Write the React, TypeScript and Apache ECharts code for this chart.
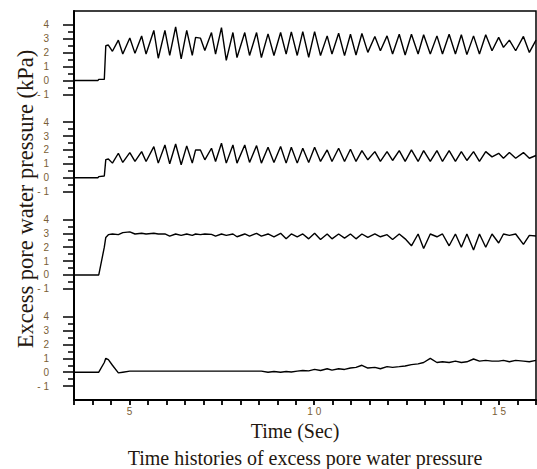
import React, { useEffect, useRef } from 'react';
import * as echarts from 'echarts';

// Time (s) of sampled points (peaks / troughs of the records)
const timeSec = [
  3.5, 4.15, 4.17, 4.32, 4.36, 4.43, 4.54, 4.70, 4.82, 5.01,
  5.15, 5.33, 5.45, 5.66, 5.78, 5.96, 6.09, 6.25, 6.40, 6.55,
  6.70, 6.79, 6.92, 7.04, 7.22, 7.33, 7.49, 7.62, 7.80, 7.91,
  8.12, 8.25, 8.44, 8.57, 8.75, 8.91, 9.09, 9.24, 9.38, 9.54,
  9.69, 9.85, 10.01, 10.17, 10.35, 10.48, 10.66, 10.82, 10.98, 11.13,
  11.29, 11.45, 11.64, 11.79, 11.97, 12.12, 12.30, 12.46, 12.63, 12.81,
  12.96, 13.14, 13.32, 13.47, 13.65, 13.82, 13.98, 14.13, 14.31, 14.47,
  14.64, 14.81, 14.99, 15.12, 15.28, 15.45, 15.66, 15.82, 16.0,
];

// Excess pore water pressure (kPa), panel 1 (top) to panel 4 (bottom)
const pwp1 = [
  0, 0, 0.08, 0.08, 2.5, 2.55, 2.1, 2.9, 1.9, 3.05,
  1.95, 3.2, 1.9, 3.6, 1.6, 3.6, 1.8, 3.85, 1.55, 3.6,
  1.8, 3.1, 3.05, 2.15, 3.45, 1.9, 3.8, 1.45, 3.45, 1.65,
  3.45, 1.8, 3.45, 1.65, 3.35, 1.8, 3.45, 1.9, 3.5, 1.8,
  3.52, 1.67, 3.52, 1.79, 3.21, 1.9, 3.4, 1.79, 3.33, 1.83,
  3.38, 2.02, 3.17, 2.14, 3.21, 1.9, 3.33, 1.83, 3.33, 1.9,
  3.29, 1.9, 3.21, 1.9, 3.33, 1.9, 3.29, 1.86, 3.21, 1.9,
  3.29, 2.14, 3.1, 2.38, 2.9, 2.14, 3.17, 2.02, 2.9,
];
const pwp2 = [
  0, 0, 0.08, 0.12, 1.3, 1.35, 1.05, 1.76, 1.1, 1.81,
  1.17, 1.88, 1.17, 2.24, 1.05, 2.36, 1.0, 2.43, 0.93, 2.29,
  1.05, 2.0, 2.0, 1.29, 2.12, 1.17, 2.48, 1.05, 2.36, 1.05,
  2.36, 1.1, 2.31, 1.05, 2.19, 1.1, 2.24, 1.05, 2.19, 1.05,
  2.12, 1.1, 2.19, 1.17, 2.0, 1.17, 2.12, 1.17, 2.05, 1.17,
  1.95, 1.29, 1.88, 1.17, 1.88, 1.24, 1.95, 1.17, 2.0, 1.17,
  1.95, 1.17, 1.95, 1.17, 1.95, 1.17, 1.88, 1.24, 1.88, 1.17,
  1.88, 1.5, 1.76, 1.4, 1.81, 1.4, 1.81, 1.4, 1.6,
];
const pwp3 = [
  0, 0, 0, 2.0, 2.7, 2.9, 2.95, 2.9, 3.05, 3.1,
  2.95, 3.0, 2.95, 3.0, 2.95, 2.95, 2.8, 2.95, 2.85, 2.95,
  2.85, 2.95, 2.9, 2.95, 2.92, 2.8, 2.95, 2.85, 2.95, 2.75,
  2.95, 2.8, 3.0, 2.8, 2.95, 2.75, 3.0, 2.6, 2.95, 2.75,
  2.95, 2.6, 3.0, 2.55, 2.95, 2.6, 2.95, 2.65, 2.95, 2.6,
  2.95, 2.7, 2.95, 2.75, 2.9, 2.55, 2.95, 2.6, 2.1, 2.95,
  1.9, 2.95, 2.75, 2.95, 2.1, 2.95, 2.0, 2.95, 1.8, 2.95,
  2.0, 2.95, 2.3, 2.95, 2.85, 2.95, 2.2, 2.85, 2.8,
];
const pwp4 = [
  0, 0, 0, 0.7, 1.0, 0.9, 0.5, -0.05, 0.0, 0.08,
  0.08, 0.08, 0.08, 0.08, 0.08, 0.08, 0.08, 0.08, 0.08, 0.08,
  0.08, 0.08, 0.08, 0.08, 0.08, 0.08, 0.08, 0.08, 0.08, 0.08,
  0.08, 0.08, 0.08, 0.08, 0.0, 0.05, 0.0, 0.05, 0.02, 0.08,
  0.12, 0.1, 0.2, 0.12, 0.25, 0.15, 0.25, 0.2, 0.3, 0.35,
  0.5, 0.3, 0.35, 0.25, 0.4, 0.35, 0.4, 0.45, 0.55, 0.6,
  0.7, 1.0, 0.7, 0.75, 0.7, 0.8, 0.7, 0.75, 0.95, 0.8,
  0.85, 0.8, 0.8, 0.85, 0.75, 0.85, 0.8, 0.75, 0.85,
];

// Tick labels
const yTickValues = [-1, 0, 1, 2, 3, 4];
const yTickLabels = ['- 1', '0', '1', '2', '3', '4'];
const yHalfTicks = [-0.5, 0.5, 1.5, 2.5, 3.5];
const xLabelValues = [5, 10, 15];
const xTickLabels = ['5', '1 0', '1 5'];

const yAxisTitle = 'Excess pore water pressure (kPa)';
const xAxisTitle = 'Time (Sec)';
const caption = 'Time histories of excess pore water pressure';

// vertical stacking of the four records on one axis
const PANEL_STEP = 7;
const records = [pwp1, pwp2, pwp3, pwp4];

export default function App() {
  const ref = useRef<HTMLDivElement>(null);

  useEffect(() => {
    if (!ref.current) return;
    const chart = echarts.init(ref.current, null, { renderer: 'svg' });
    const offsets = records.map((_, i) => (records.length - 1 - i) * PANEL_STEP);
    const majorTicks: number[] = [];
    const minorTicks: number[] = [];
    offsets.forEach((o) => {
      yTickValues.forEach((v) => majorTicks.push(v + o));
      yHalfTicks.forEach((v) => minorTicks.push(v + o));
    });
    const tickColor = '#7a5e36';
    const textColor = '#24170f';
    const serif = '"Liberation Serif", "Times New Roman", serif';

    chart.setOption({
      animation: false,
      backgroundColor: '#ffffff',
      grid: {
        left: 74,
        right: 1,
        top: 11,
        bottom: 69,
        show: true,
        borderColor: '#000',
        borderWidth: 1.5,
        backgroundColor: 'transparent',
      },
      xAxis: {
        type: 'value',
        min: 3.5,
        max: 16,
        interval: 0.5,
        axisLine: { show: true, onZero: false, lineStyle: { color: '#000', width: 2 } },
        axisTick: { show: true, inside: false, length: 5, lineStyle: { color: '#000', width: 1.8 } },
        splitLine: { show: false },
        axisLabel: {
          margin: 6,
          fontSize: 10,
          color: tickColor,
          fontFamily: '"Liberation Sans", Arial, sans-serif',
          customValues: xLabelValues,
          formatter: (v: number) => {
            const i = xLabelValues.indexOf(Math.round(v * 100) / 100);
            return i >= 0 ? xTickLabels[i] : '';
          },
        },
      },
      yAxis: [
        {
          type: 'value',
          position: 'left',
          min: -2,
          max: 26,
          axisLine: { show: true, onZero: false, lineStyle: { color: '#000', width: 2 } },
          axisTick: {
            show: true,
            inside: false,
            length: 11,
            lineStyle: { color: '#000', width: 1.5 },
            customValues: majorTicks,
          },
          splitLine: { show: false },
          axisLabel: {
            margin: 25,
            fontSize: 10,
            color: tickColor,
            fontFamily: '"Liberation Sans", Arial, sans-serif',
            customValues: majorTicks,
            formatter: (val: number) => {
              const o = Math.floor((val + 1) / PANEL_STEP) * PANEL_STEP;
              const local = Math.round(val - o);
              const i = yTickValues.indexOf(local);
              return i >= 0 ? yTickLabels[i] : '';
            },
          },
        },
        {
          type: 'value',
          position: 'left',
          offset: 0,
          min: -2,
          max: 26,
          axisLine: { show: false },
          axisTick: {
            show: true,
            inside: false,
            length: 6,
            lineStyle: { color: '#000', width: 1.5 },
            customValues: minorTicks,
          },
          splitLine: { show: false },
          axisLabel: { show: false },
        },
      ],
      series: records.map((vals, i) => ({
        type: 'line',
        yAxisIndex: 0,
        showSymbol: false,
        symbol: 'none',
        silent: true,
        lineStyle: { color: '#000', width: 1.4 },
        data: timeSec.map((t, k) => [t, vals[k] + offsets[i]]),
      })),
      graphic: [
        {
          type: 'text',
          x: 25,
          y: 199,
          rotation: Math.PI / 2,
          style: {
            text: yAxisTitle,
            fontSize: 22.5,
            fontFamily: serif,
            fill: textColor,
            textAlign: 'center',
            textVerticalAlign: 'middle',
          },
        },
        {
          type: 'text',
          x: 295,
          y: 431,
          style: {
            text: xAxisTitle,
            fontSize: 20,
            fontFamily: serif,
            fill: textColor,
            textAlign: 'center',
            textVerticalAlign: 'middle',
          },
        },
        {
          type: 'text',
          x: 305,
          y: 458,
          style: {
            text: caption,
            fontSize: 20,
            fontFamily: serif,
            fill: textColor,
            textAlign: 'center',
            textVerticalAlign: 'middle',
          },
        },
      ],
    });
    return () => chart.dispose();
  }, []);

  return (
    <div
      ref={ref}
      style={{ position: 'fixed', left: 0, top: 0, width: 537, height: 469, background: '#fff' }}
    />
  );
}
